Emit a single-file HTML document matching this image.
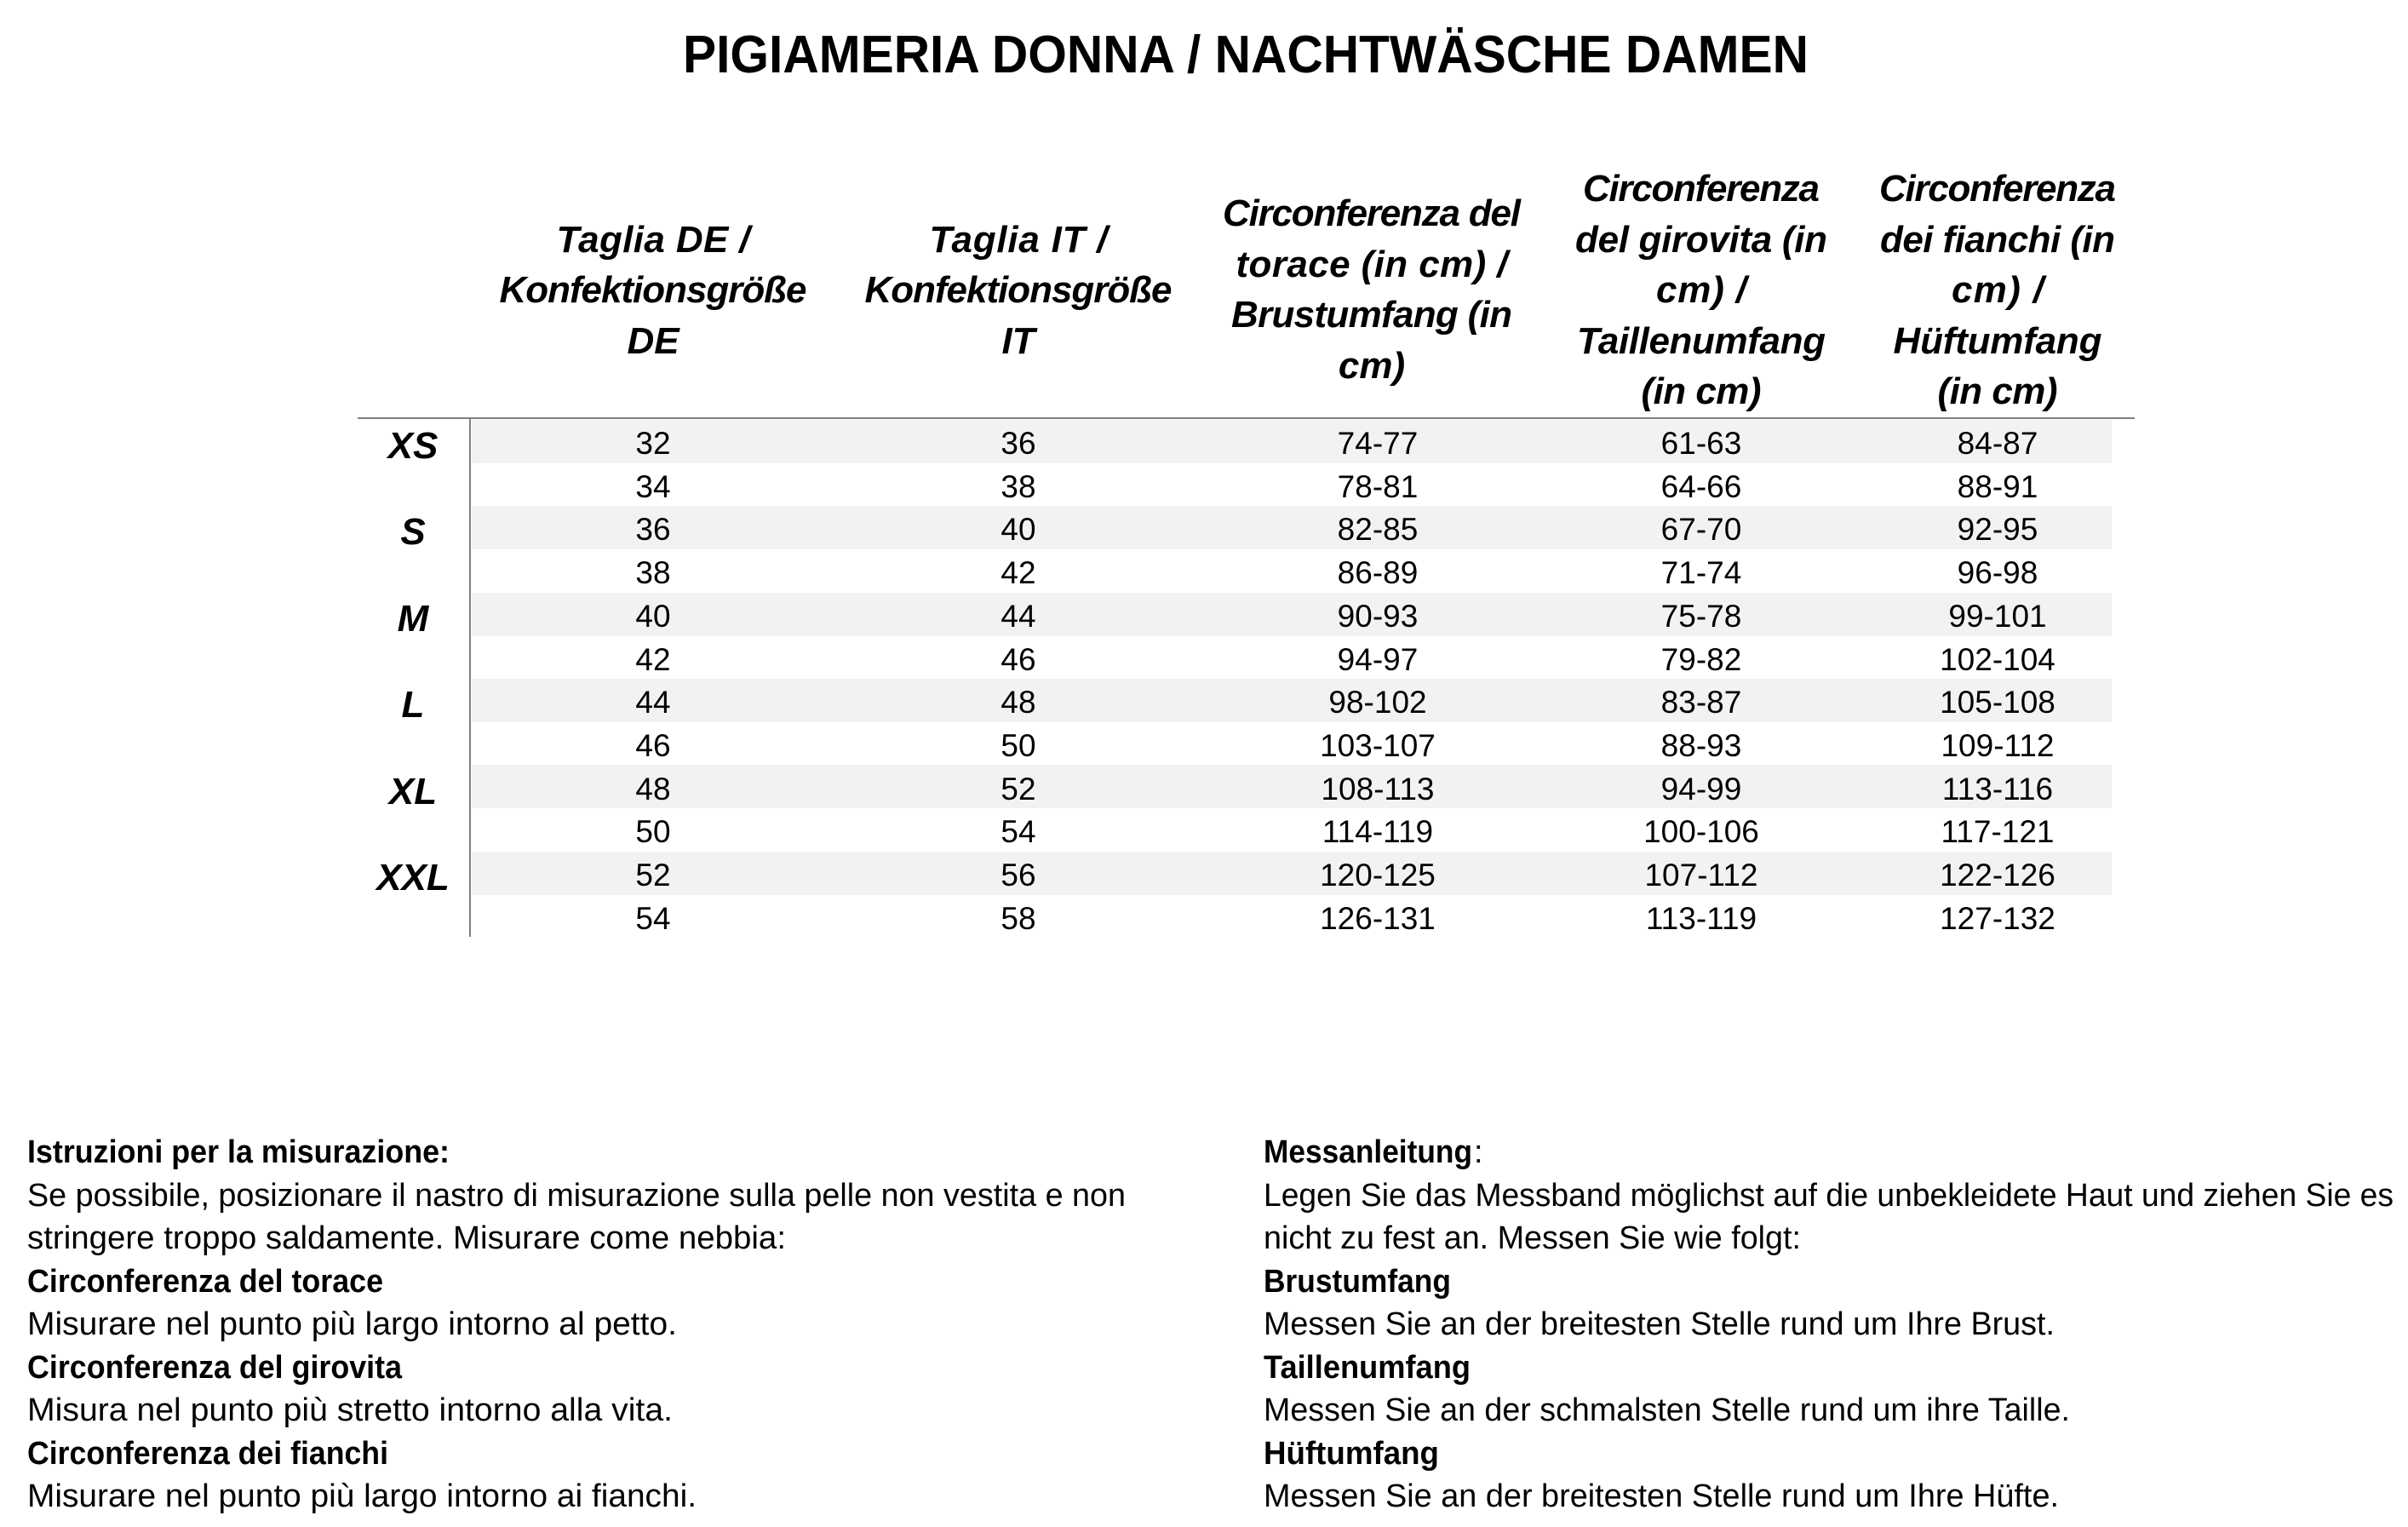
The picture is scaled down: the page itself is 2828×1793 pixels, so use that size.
<!DOCTYPE html>
<html><head><meta charset="utf-8"><style>html,body{margin:0;padding:0;background:#fff}svg{display:block}</style></head><body>
<svg width="2828" height="1793" viewBox="0 0 2828 1793" xmlns="http://www.w3.org/2000/svg" font-family="'Liberation Sans', sans-serif" fill="#000">
<text x="1463" y="85" font-size="62" font-weight="bold" text-anchor="middle" textLength="1322" lengthAdjust="spacingAndGlyphs">PIGIAMERIA DONNA / NACHTWÄSCHE DAMEN</text>
<g fill="#f2f2f2">
<rect x="554" y="493" width="1926" height="51"/>
<rect x="554" y="594" width="1926" height="51"/>
<rect x="554" y="696" width="1926" height="51"/>
<rect x="554" y="797" width="1926" height="51"/>
<rect x="554" y="898" width="1926" height="51"/>
<rect x="554" y="1000" width="1926" height="51"/>
</g>
<line x1="420" y1="491" x2="2507" y2="491" stroke="#7f7f7f" stroke-width="2"/>
<line x1="552" y1="491" x2="552" y2="1100" stroke="#7f7f7f" stroke-width="2"/>
<g font-size="44" font-weight="bold" font-style="italic" text-anchor="middle" lengthAdjust="spacingAndGlyphs">
<text x="767" y="296" textLength="227">Taglia DE /</text>
<text x="767" y="355" textLength="361">Konfektionsgröße</text>
<text x="767" y="415">DE</text>
<text x="1196" y="296" textLength="209">Taglia IT /</text>
<text x="1196" y="355" textLength="361">Konfektionsgröße</text>
<text x="1196" y="415">IT</text>
<text x="1611" y="265" textLength="350">Circonferenza del</text>
<text x="1611" y="325" textLength="319">torace (in cm) /</text>
<text x="1611" y="384" textLength="330">Brustumfang (in</text>
<text x="1611" y="444">cm)</text>
<text x="1998" y="236" textLength="278">Circonferenza</text>
<text x="1998" y="296" textLength="296">del girovita (in</text>
<text x="1998" y="355" textLength="106">cm) /</text>
<text x="1998" y="415" textLength="292">Taillenumfang</text>
<text x="1998" y="474" textLength="141">(in cm)</text>
<text x="2346" y="236" textLength="278">Circonferenza</text>
<text x="2346" y="296" textLength="276">dei fianchi (in</text>
<text x="2346" y="355" textLength="108">cm) /</text>
<text x="2346" y="415" textLength="245">Hüftumfang</text>
<text x="2346" y="474" textLength="141">(in cm)</text>
<text x="485" y="538">XS</text>
<text x="485" y="639">S</text>
<text x="485" y="741">M</text>
<text x="485" y="842">L</text>
<text x="485" y="944">XL</text>
<text x="485" y="1045">XXL</text>
</g>
<g font-size="37" text-anchor="middle">
<g transform="translate(0,533)"><text x="767">32</text><text x="1196">36</text><text x="1618">74-77</text><text x="1998">61-63</text><text x="2346">84-87</text></g>
<g transform="translate(0,584)"><text x="767">34</text><text x="1196">38</text><text x="1618">78-81</text><text x="1998">64-66</text><text x="2346">88-91</text></g>
<g transform="translate(0,634)"><text x="767">36</text><text x="1196">40</text><text x="1618">82-85</text><text x="1998">67-70</text><text x="2346">92-95</text></g>
<g transform="translate(0,685)"><text x="767">38</text><text x="1196">42</text><text x="1618">86-89</text><text x="1998">71-74</text><text x="2346">96-98</text></g>
<g transform="translate(0,736)"><text x="767">40</text><text x="1196">44</text><text x="1618">90-93</text><text x="1998">75-78</text><text x="2346">99-101</text></g>
<g transform="translate(0,787)"><text x="767">42</text><text x="1196">46</text><text x="1618">94-97</text><text x="1998">79-82</text><text x="2346">102-104</text></g>
<g transform="translate(0,837)"><text x="767">44</text><text x="1196">48</text><text x="1618">98-102</text><text x="1998">83-87</text><text x="2346">105-108</text></g>
<g transform="translate(0,888)"><text x="767">46</text><text x="1196">50</text><text x="1618">103-107</text><text x="1998">88-93</text><text x="2346">109-112</text></g>
<g transform="translate(0,939)"><text x="767">48</text><text x="1196">52</text><text x="1618">108-113</text><text x="1998">94-99</text><text x="2346">113-116</text></g>
<g transform="translate(0,989)"><text x="767">50</text><text x="1196">54</text><text x="1618">114-119</text><text x="1998">100-106</text><text x="2346">117-121</text></g>
<g transform="translate(0,1040)"><text x="767">52</text><text x="1196">56</text><text x="1618">120-125</text><text x="1998">107-112</text><text x="2346">122-126</text></g>
<g transform="translate(0,1091)"><text x="767">54</text><text x="1196">58</text><text x="1618">126-131</text><text x="1998">113-119</text><text x="2346">127-132</text></g>
</g>
<g font-size="38">
<text x="32" y="1365" font-weight="bold" textLength="496" lengthAdjust="spacingAndGlyphs">Istruzioni per la misurazione:</text>
<text x="32" y="1416" textLength="1290" lengthAdjust="spacingAndGlyphs">Se possibile, posizionare il nastro di misurazione sulla pelle non vestita e non</text>
<text x="32" y="1466" textLength="891" lengthAdjust="spacingAndGlyphs">stringere troppo saldamente. Misurare come nebbia:</text>
<text x="32" y="1517" font-weight="bold" textLength="418" lengthAdjust="spacingAndGlyphs">Circonferenza del torace</text>
<text x="32" y="1567" textLength="763" lengthAdjust="spacingAndGlyphs">Misurare nel punto più largo intorno al petto.</text>
<text x="32" y="1618" font-weight="bold" textLength="440" lengthAdjust="spacingAndGlyphs">Circonferenza del girovita</text>
<text x="32" y="1668" textLength="758" lengthAdjust="spacingAndGlyphs">Misura nel punto più stretto intorno alla vita.</text>
<text x="32" y="1719" font-weight="bold" textLength="424" lengthAdjust="spacingAndGlyphs">Circonferenza dei fianchi</text>
<text x="32" y="1769" textLength="786" lengthAdjust="spacingAndGlyphs">Misurare nel punto più largo intorno ai fianchi.</text>
<text x="1484" y="1365" font-weight="bold" textLength="245" lengthAdjust="spacingAndGlyphs">Messanleitung</text>
<text x="1731" y="1365">:</text>
<text x="1484" y="1416" textLength="1327" lengthAdjust="spacingAndGlyphs">Legen Sie das Messband möglichst auf die unbekleidete Haut und ziehen Sie es</text>
<text x="1484" y="1466" textLength="631" lengthAdjust="spacingAndGlyphs">nicht zu fest an. Messen Sie wie folgt:</text>
<text x="1484" y="1517" font-weight="bold" textLength="220" lengthAdjust="spacingAndGlyphs">Brustumfang</text>
<text x="1484" y="1567" textLength="929" lengthAdjust="spacingAndGlyphs">Messen Sie an der breitesten Stelle rund um Ihre Brust.</text>
<text x="1484" y="1618" font-weight="bold" textLength="243" lengthAdjust="spacingAndGlyphs">Taillenumfang</text>
<text x="1484" y="1668" textLength="947" lengthAdjust="spacingAndGlyphs">Messen Sie an der schmalsten Stelle rund um ihre Taille.</text>
<text x="1484" y="1719" font-weight="bold" textLength="206" lengthAdjust="spacingAndGlyphs">Hüftumfang</text>
<text x="1484" y="1769" textLength="934" lengthAdjust="spacingAndGlyphs">Messen Sie an der breitesten Stelle rund um Ihre Hüfte.</text>
</g>
</svg>
</body></html>
